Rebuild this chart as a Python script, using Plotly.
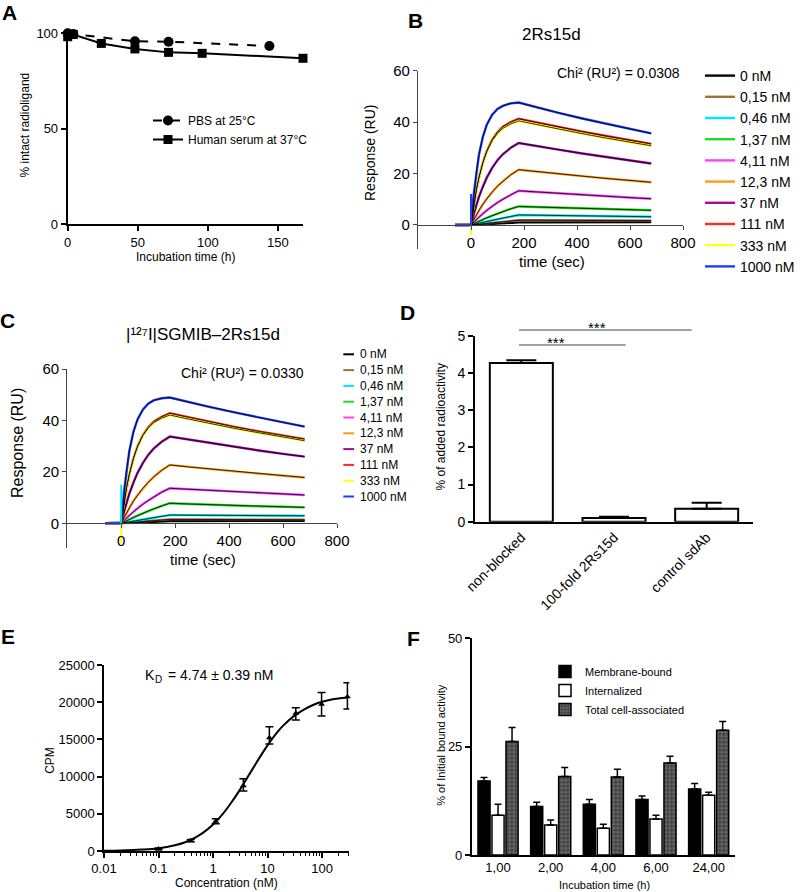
import plotly.graph_objects as go

W, H = 800, 892
FONT = "Liberation Sans, Arial, Helvetica, sans-serif"

# ---------------- Panel A : stability ----------------
a_pbs_time = [0, 4, 48, 72, 144]
a_pbs_pct = [100.0, 99.6, 95.8, 95.6, 93.3]
a_serum_time = [0, 4, 24, 48, 72, 96, 168]
a_serum_pct = [98.2, 99.4, 94.7, 91.8, 90.0, 89.5, 86.9]

# ---------------- Panels B & C : SPR sensorgrams ----------------
spr_labels = ["0 nM", "0,15 nM", "0,46 nM", "1,37 nM", "4,11 nM",
              "12,3 nM", "37 nM", "111 nM", "333 nM", "1000 nM"]
spr_colors = ["#000000", "#a0703a", "#00e5ff", "#1fdc1f", "#ff40ff",
              "#ff9a1a", "#9a0d9a", "#ff2a1a", "#ffff1a", "#1f3cff"]
spr_time = [-60, 0, 10, 20, 30, 45, 60, 80, 100, 120, 150, 180, 250, 330, 420, 510, 600, 680]

b_0nM = [0, 0, 0.05, 0.1, 0.15, 0.25, 0.35, 0.45, 0.55, 0.65, 0.8, 1.0, 1.0, 1.0, 1.05, 1.05, 1.1, 1.1]
b_015nM = [0, 0, 0.1, 0.2, 0.3, 0.45, 0.6, 0.85, 1.05, 1.25, 1.55, 1.85, 1.85, 1.8, 1.8, 1.75, 1.7, 1.7]
b_046nM = [0, 0, 0.25, 0.5, 0.7, 1.05, 1.4, 1.85, 2.3, 2.7, 3.3, 3.9, 3.8, 3.7, 3.6, 3.45, 3.3, 3.2]
b_137nM = [0, 0, 0.5, 1.0, 1.4, 2.1, 2.8, 3.6, 4.4, 5.2, 6.3, 7.2, 7.0, 6.7, 6.5, 6.2, 5.9, 5.7]
b_411nM = [0, 0, 1.1, 2.1, 3.0, 4.4, 5.7, 7.3, 8.7, 10.0, 11.8, 13.3, 12.8, 12.3, 11.7, 11.1, 10.6, 10.2]
b_123nM = [0, 0, 2.0, 3.9, 5.7, 8.1, 10.3, 12.9, 15.1, 17.0, 19.5, 21.5, 20.7, 19.9, 19.0, 18.1, 17.3, 16.6]
b_37nM = [0, 0, 4.1, 7.7, 10.9, 15.0, 18.5, 22.2, 25.2, 27.5, 30.0, 31.9, 30.6, 29.3, 27.8, 26.4, 25.0, 23.9]
b_111nM = [0, 0, 7.4, 13.4, 18.5, 24.4, 28.9, 33.2, 36.1, 38.2, 40.0, 41.3, 39.8, 38.1, 36.3, 34.6, 32.9, 31.5]
b_333nM = [0, 0, 7.6, 13.5, 18.4, 24.2, 28.6, 32.8, 35.6, 37.6, 39.3, 40.5, 39.0, 37.3, 35.5, 33.8, 32.2, 30.8]
b_1000nM = [0, 0, 11.7, 20.6, 27.3, 34.4, 39.1, 42.9, 45.1, 46.3, 47.3, 47.6, 45.7, 43.6, 41.4, 39.3, 37.3, 35.6]

c_0nM = [0, 0, 0.05, 0.1, 0.15, 0.2, 0.3, 0.4, 0.5, 0.6, 0.75, 0.9, 0.9, 0.9, 0.95, 0.95, 1.0, 1.0]
c_015nM = [0, 0, 0.08, 0.16, 0.25, 0.37, 0.5, 0.67, 0.83, 1.0, 1.25, 1.5, 1.5, 1.45, 1.45, 1.4, 1.4, 1.35]
c_046nM = [0, 0, 0.2, 0.4, 0.55, 0.85, 1.1, 1.45, 1.8, 2.15, 2.7, 3.2, 3.15, 3.1, 3.05, 3.0, 2.95, 2.9]
c_137nM = [0, 0, 0.5, 1.1, 1.5, 2.3, 3.0, 3.9, 4.8, 5.6, 6.8, 7.8, 7.5, 7.2, 6.9, 6.6, 6.4, 6.2]
c_411nM = [0, 0, 1.1, 2.1, 3.1, 4.5, 5.8, 7.5, 8.9, 10.2, 12.1, 13.6, 13.2, 12.8, 12.3, 11.8, 11.4, 11.0]
c_123nM = [0, 0, 2.1, 4.1, 6.0, 8.6, 10.9, 13.6, 15.9, 18.0, 20.6, 22.7, 21.9, 21.1, 20.2, 19.3, 18.5, 17.8]
c_37nM = [0, 0, 4.3, 8.1, 11.5, 15.8, 19.5, 23.4, 26.6, 29.0, 31.7, 33.7, 32.5, 31.1, 29.7, 28.3, 27.0, 25.9]
c_111nM = [0, 0, 7.7, 13.9, 19.1, 25.2, 29.9, 34.3, 37.3, 39.5, 41.4, 42.8, 41.2, 39.4, 37.5, 35.7, 34.0, 32.7]
c_333nM = [0, 0, 7.9, 14.0, 19.1, 25.2, 29.7, 34.1, 37.0, 39.1, 40.9, 42.1, 40.5, 38.7, 36.9, 35.2, 33.5, 32.1]
c_1000nM = [0, 0, 12.1, 21.2, 28.1, 35.5, 40.3, 44.2, 46.5, 47.8, 48.6, 48.9, 47.1, 45.2, 43.1, 41.1, 39.2, 37.6]

spike_time = [0, 0]
b_spike_blue = [0, 12]
b_spike_yellow = [0, -4]
c_spike_cyan = [0, 15]
c_spike_yellow = [0, -8]

# ---------------- Panel D : blocking ----------------
d_groups = ["non-blocked", "100-fold 2Rs15d", "control sdAb"]
d_values = [4.27, 0.10, 0.35]
d_sem = [0.08, 0.03, 0.16]

# ---------------- Panel E : saturation binding ----------------
e_conc = [0.1, 0.39, 1.12, 3.6, 10.8, 33, 98, 292]
e_cpm = [270, 1390, 3990, 8780, 15230, 18500, 19710, 20740]
e_err_up = [100, 150, 330, 940, 1480, 760, 1610, 1880]
e_err_down = [100, 150, 330, 720, 850, 900, 1570, 1660]
e_fit_conc = [0.01, 0.02, 0.05, 0.1, 0.2, 0.3, 0.5, 0.7, 1, 1.5, 2, 3, 4, 5, 7, 10,
              15, 20, 30, 50, 70, 100, 150, 200, 300]
e_fit_cpm = [40, 80, 200, 380, 780, 1150, 1900, 2600, 3550, 4950, 6150, 8050, 9550, 10700,
             12450, 14200, 15950, 16950, 18100, 19150, 19650, 20050, 20350, 20500, 20670]

# ---------------- Panel F : internalization ----------------
f_times = ["1,00", "2,00", "4,00", "6,00", "24,00"]
f_membrane = [17.1, 11.2, 11.7, 12.8, 15.2]
f_membrane_err = [0.8, 1.0, 1.1, 0.8, 1.3]
f_internal = [9.2, 6.9, 6.2, 8.3, 13.8]
f_internal_err = [2.5, 1.2, 0.9, 0.9, 0.7]
f_total = [26.2, 18.1, 18.0, 21.2, 28.8]
f_total_err = [3.2, 2.1, 1.8, 1.6, 2.0]


def dx(left, right):
    return [left / W, right / W]


def dy(top, bottom):
    return [1 - bottom / H, 1 - top / H]


def px(x):
    return x / W


def py(y):
    return 1 - y / H


fig = go.Figure()

# ---- A ----
fig.add_trace(go.Scatter(x=a_pbs_time, y=a_pbs_pct, mode="lines+markers", name="PBS at 25°C",
                         line=dict(color="black", width=2, dash="dash"),
                         marker=dict(symbol="circle", size=10, color="black"),
                         cliponaxis=False, xaxis="x", yaxis="y", legend="legend"))
fig.add_trace(go.Scatter(x=a_serum_time, y=a_serum_pct, mode="lines+markers", name="Human serum at 37°C",
                         line=dict(color="black", width=2),
                         marker=dict(symbol="square", size=9, color="black"),
                         cliponaxis=False, xaxis="x", yaxis="y", legend="legend"))

# ---- B & C ----
b_series = [b_0nM, b_015nM, b_046nM, b_137nM, b_411nM, b_123nM, b_37nM, b_111nM, b_333nM, b_1000nM]
c_series = [c_0nM, c_015nM, c_046nM, c_137nM, c_411nM, c_123nM, c_37nM, c_111nM, c_333nM, c_1000nM]


def add_spr(series, xa, ya, show):
    for lab, col, vals in zip(spr_labels, spr_colors, series):
        fig.add_trace(go.Scatter(x=spr_time, y=vals, mode="lines", name=lab,
                                 line=dict(color=col, width=2.4), showlegend=show,
                                 legend="legend2", xaxis=xa, yaxis=ya))
    for vals in series:
        fig.add_trace(go.Scatter(x=spr_time[1:], y=vals[1:], mode="lines",
                                 line=dict(color="black", width=0.8), showlegend=False,
                                 hoverinfo="skip", xaxis=xa, yaxis=ya))


add_spr(b_series, "x2", "y2", True)
add_spr(c_series, "x3", "y3", False)

for yv, col, xa, ya in [(b_spike_blue, spr_colors[9], "x2", "y2"),
                        (b_spike_yellow, spr_colors[8], "x2", "y2"),
                        (c_spike_cyan, spr_colors[2], "x3", "y3"),
                        (c_spike_yellow, spr_colors[8], "x3", "y3")]:
    fig.add_trace(go.Scatter(x=spike_time, y=yv, mode="lines", line=dict(color=col, width=2),
                             showlegend=False, hoverinfo="skip", xaxis=xa, yaxis=ya))

# ---- D ----
fig.add_trace(go.Bar(x=d_groups, y=d_values, width=0.68, showlegend=False,
                     marker=dict(color="white", line=dict(color="black", width=2)),
                     error_y=dict(type="data", symmetric=False, array=d_sem,
                                  arrayminus=[0] * len(d_sem), color="black", thickness=2, width=15),
                     xaxis="x4", yaxis="y4"))

# ---- E ----
fig.add_trace(go.Scatter(x=e_fit_conc, y=e_fit_cpm, mode="lines", line=dict(color="black", width=2, shape="spline"),
                         showlegend=False, hoverinfo="skip", xaxis="x5", yaxis="y5"))
fig.add_trace(go.Scatter(x=e_conc, y=e_cpm, mode="markers", showlegend=False,
                         marker=dict(symbol="triangle-up", size=6, color="black"),
                         error_y=dict(type="data", symmetric=False, array=e_err_up, arrayminus=e_err_down,
                                      color="black", thickness=1.5, width=4),
                         cliponaxis=False, xaxis="x5", yaxis="y5"))

# ---- F ----
f_w = 0.23
f_step = 0.266
f_specs = [
    ("Membrane-bound", f_membrane, f_membrane_err, -1,
     dict(color="black", line=dict(color="black", width=1.5))),
    ("Internalized", f_internal, f_internal_err, 0,
     dict(color="white", line=dict(color="black", width=1.5))),
    ("Total cell-associated", f_total, f_total_err, 1,
     dict(color="#3c3c3c", line=dict(color="black", width=1.5),
          pattern=dict(shape="+", fgcolor="#d8d8d8", bgcolor="#3c3c3c", size=4, solidity=0.3))),
]
for name, vals, errs, k, mk in f_specs:
    fig.add_trace(go.Bar(x=f_times, y=vals, name=name, width=f_w, offset=k * f_step - f_w / 2,
                         marker=mk,
                         error_y=dict(type="data", symmetric=False, array=errs, arrayminus=[0] * len(errs),
                                      color="black", thickness=1.5, width=3.5),
                         legend="legend3", xaxis="x6", yaxis="y6"))


def ax(**kw):
    base = dict(showgrid=False, zeroline=False, showline=True, linecolor="black", linewidth=1.5,
                ticks="outside", tickcolor="black", ticklen=5, tickwidth=1.5, fixedrange=True,
                automargin=False, tickfont=dict(size=13, color="black"))
    base.update(kw)
    return base


spr_ax = dict(linecolor="#444", tickcolor="#444", linewidth=1.2, tickwidth=1.2, ticklen=4,
              tickfont=dict(size=15, color="black"))

fig.update_layout(
    width=W, height=H, autosize=False,
    margin=dict(l=0, r=0, t=0, b=0, pad=0, autoexpand=False),
    paper_bgcolor="white", plot_bgcolor="white",
    font=dict(family=FONT, color="black"),
    xaxis=ax(domain=dx(67.7, 303), range=[0, 168], tickvals=[0, 50, 100, 150], anchor="y",
             linewidth=2, tickwidth=2, tickfont=dict(size=13)),
    yaxis=ax(domain=dy(33.3, 224), range=[0, 100], tickvals=[0, 50, 100], anchor="x",
             linewidth=2, tickwidth=2, tickfont=dict(size=13)),
    xaxis2=ax(domain=dx(418, 683), range=[-200, 800], tickvals=[0, 200, 400, 600, 800],
              anchor="free", position=py(225), **spr_ax),
    yaxis2=ax(domain=dy(70.7, 249.4), range=[-9.5, 60], tickvals=[0, 20, 40, 60], anchor="x2", **spr_ax),
    xaxis3=ax(domain=dx(67.3, 337), range=[-200, 800], tickvals=[0, 200, 400, 600, 800],
              anchor="free", position=py(523.3), **spr_ax),
    yaxis3=ax(domain=dy(369, 547.7), range=[-9.5, 60], tickvals=[0, 20, 40, 60], anchor="x3", **spr_ax),
    xaxis4=ax(domain=dx(475, 753), type="category", range=[-0.5, 2.5], ticks="", tickangle=-45,
              anchor="y4", linewidth=2, tickfont=dict(size=14)),
    yaxis4=ax(domain=dy(336, 521.7), range=[0, 5], dtick=1, anchor="x4", linewidth=2, tickwidth=2,
              tickfont=dict(size=14)),
    xaxis5=ax(domain=dx(104, 349.3), type="log", range=[-2, 2.5],
              tickvals=[0.01, 0.1, 1, 10, 100], ticktext=["0.01", "0.1", "1", "10", "100"],
              minor=dict(ticks="outside", ticklen=3, tickwidth=1, tickcolor="black", dtick="D1"),
              anchor="y5"),
    yaxis5=ax(domain=dy(665, 851), range=[0, 25000], dtick=5000, tickformat="d", anchor="x5"),
    xaxis6=ax(domain=dx(471.7, 735), type="category", range=[-0.5, 4.5], ticks="", anchor="y6"),
    yaxis6=ax(domain=dy(638.3, 855), range=[0, 50], tickvals=[0, 25, 50], anchor="x6"),
    legend=dict(x=px(148), y=py(106), xanchor="left", yanchor="top", bgcolor="rgba(0,0,0,0)",
                font=dict(size=12)),
    legend2=dict(x=px(700), y=py(60), xanchor="left", yanchor="top", bgcolor="rgba(0,0,0,0)",
                 font=dict(size=14)),
    legend3=dict(x=px(545), y=py(657), xanchor="left", yanchor="top", bgcolor="rgba(0,0,0,0)",
                 font=dict(size=11)),
)

# custom compact legend for panel C
c_leg_top, c_leg_step = 354.3, 15.8
for i, (lab, col) in enumerate(zip(spr_labels, spr_colors)):
    yy = c_leg_top + i * c_leg_step
    fig.add_shape(type="line", xref="paper", yref="paper", x0=px(343.3), x1=px(354),
                  y0=py(yy), y1=py(yy), line=dict(color=col, width=2))
    fig.add_annotation(x=px(357.5), y=py(yy), xref="paper", yref="paper", text=lab, showarrow=False,
                       xanchor="left", yanchor="middle", font=dict(size=12))

# significance bars in D
for (x0, x1, yy, xs) in [(519, 691.7, 330, 596.7), (519, 625.7, 345, 555.7)]:
    fig.add_shape(type="line", xref="paper", yref="paper", x0=px(x0), x1=px(x1), y0=py(yy), y1=py(yy),
                  line=dict(color="#444", width=1))
    fig.add_annotation(x=px(xs), y=py(yy - 3), xref="paper", yref="paper", text="***", showarrow=False,
                       xanchor="center", yanchor="middle", font=dict(size=15))


def note(text, x, y, size, angle=0, bold=False, anchor="center"):
    fig.add_annotation(x=px(x), y=py(y), xref="paper", yref="paper", showarrow=False,
                       text=("<b>%s</b>" % text) if bold else text, textangle=angle,
                       xanchor=anchor, yanchor="middle", font=dict(size=size, color="black"))


# panel letters
for letter, x, y in [("A", 9.5, 12.5), ("B", 415, 20.5), ("C", 7.5, 320.5),
                     ("D", 407.5, 312.5), ("E", 7.5, 636.5), ("F", 413.5, 638.5)]:
    note(letter, x, y, 21, bold=True)

# titles and in-plot texts
note("2Rs15d", 551, 34, 17)
note("|¹²⁷I|SGMIB–2Rs15d", 203.3, 334, 17)
note("Chi² (RU²) = 0.0308", 618.3, 72.5, 14)
note("Chi² (RU²) = 0.0330", 242.5, 372.5, 14)
# K_D = 4.74 ± 0.39 nM (subscript written as a smaller, lowered text)
note("K", 143, 675, 14, anchor="left")
note("D", 152.5, 679, 10, anchor="left")
note("= 4.74 ± 0.39 nM", 166, 675, 14, anchor="left")

# axis titles
note("% intact radioligand", 25, 125.5, 12, angle=-90)
note("Incubation time (h)", 185, 257, 12)
note("Response (RU)", 370, 153, 14, angle=-90)
note("time (sec)", 551.7, 261, 15)
note("Response (RU)", 17, 443, 16, angle=-90)
note("time (sec)", 202.5, 559, 15)
note("% of added radioactivity", 440.8, 426.7, 12, angle=-90)
note("CPM", 50, 760.8, 12, angle=-90)
note("Concentration (nM)", 226.7, 883, 12)
note("% of Initial bound activity", 440.8, 745, 11, angle=-90)
note("Incubation time (h)", 604, 885, 11)

fig.write_html("out.html", config={"displayModeBar": False},
               post_script="document.body.style.margin='0px';")
